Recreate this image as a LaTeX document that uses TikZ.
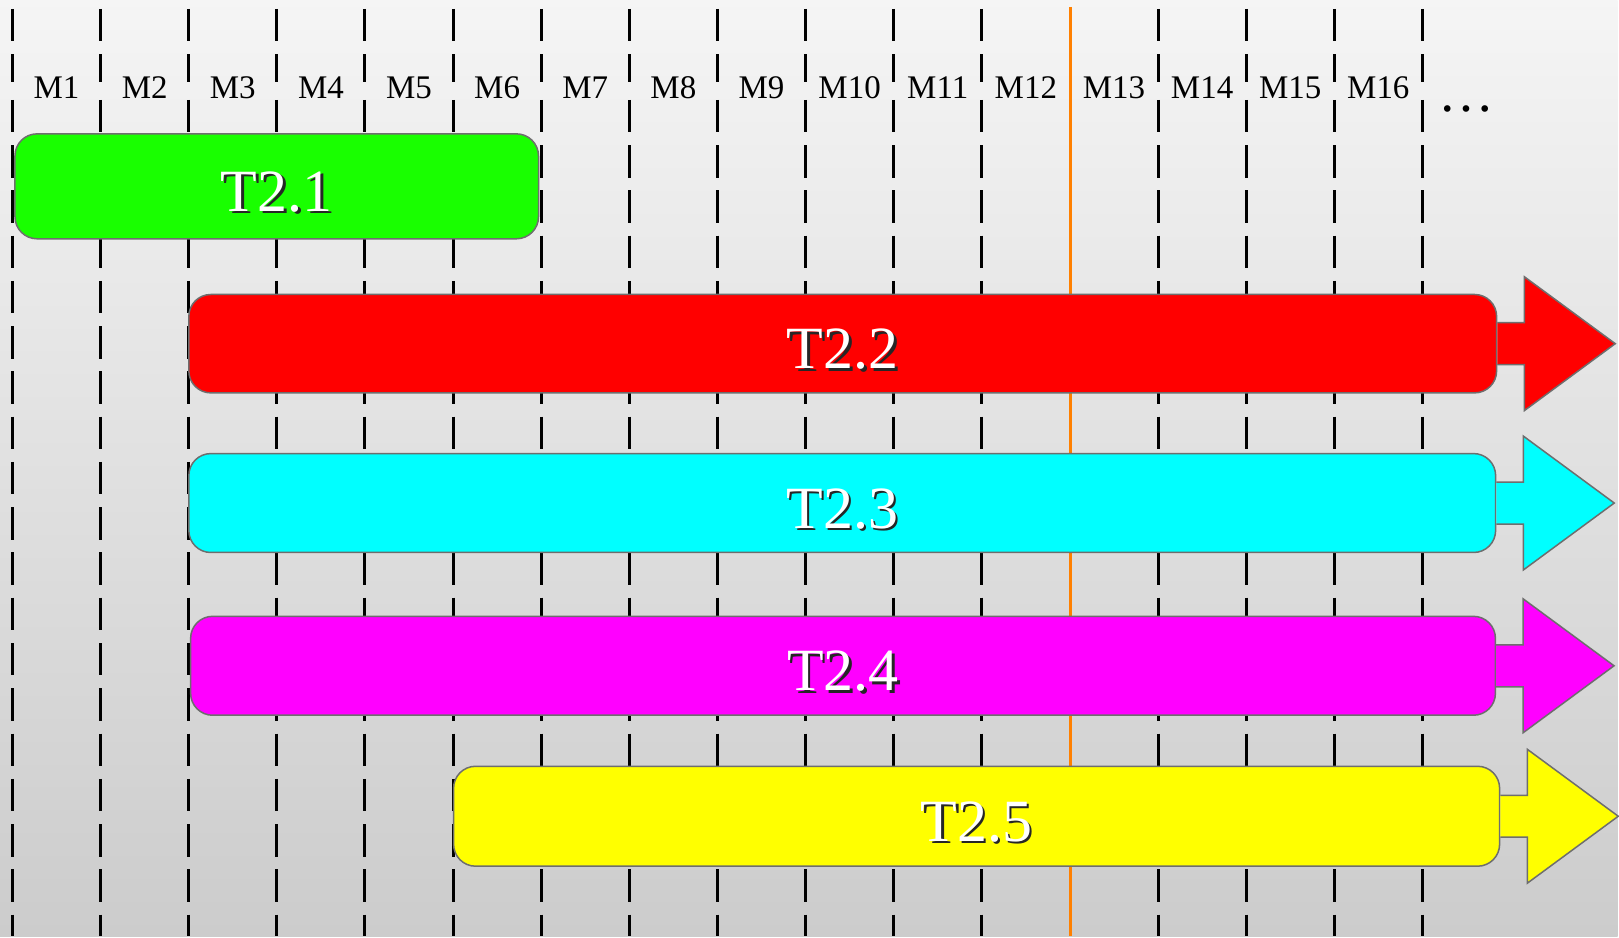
\documentclass[tikz,border=0pt]{standalone}
\usepackage{fontspec}
\setmainfont{Liberation Serif}
\usetikzlibrary{positioning,calc}

\definecolor{taskgreen}{RGB}{25,255,0}
\definecolor{taskred}{RGB}{255,0,0}
\definecolor{taskcyan}{RGB}{0,255,255}
\definecolor{taskmagenta}{RGB}{255,0,255}
\definecolor{taskyellow}{RGB}{255,255,0}
\definecolor{nowline}{RGB}{255,128,0}

% white label with a dark drop shadow
\newcommand{\shadowed}[1]{\makebox[0pt][l]{\hspace{2.5pt}\raisebox{-2.5pt}{\color{black!85}#1}}\textcolor{white}{#1}}
% arrow that continues a bar past the right edge
\newcommand{\goeson}[2]{\draw[taskedge, fill=#2] (#1.east) ++(0,-21) -- ++(27,0) -- ++(0,-46) -- ++(91,67) -- ++(-91,67) -- ++(0,-46) -- ++(-27,0);}

\begin{document}
\begin{tikzpicture}[x=1pt, y=-1pt,
    month/.style={line width=3pt, dash pattern=on 32.5pt off 12.8pt},
    mlabel/.style={anchor=base, inner sep=0pt, font=\fontsize{33}{36}\selectfont},
    taskedge/.style={draw=black!57, line width=1.5pt},
    task/.style={taskedge, rounded corners=22pt, inner sep=0pt, text height=50pt, text depth=0pt, font=\fontsize{60}{64}\selectfont}]

    % background
    \begin{scope}[y=1pt]
        \shade[top color=black!4, bottom color=black!20] (0,-937) rectangle (1619,0);
        \useasboundingbox (0,-937) rectangle (1619,0);
    \end{scope}

    % month grid
    \foreach \i in {0,...,11,13,14,15,16} {
        \draw[month] (12.5+88.2*\i, 9) -- (12.5+88.2*\i, 82);
        \draw[month] (12.5+88.2*\i, 100) -- (12.5+88.2*\i, 937);
    }
    \draw[nowline, line width=3pt] (1071, 7) -- (1071, 937);

    \foreach \i in {1,...,16}
        \node[mlabel] (m\i) at (88.2*\i-31.6, 99) {M\i};
    \node[mlabel, font=\fontsize{56}{60}\selectfont] (more) at (1468, 112) {…};

    % tasks
    \node[task, fill=taskgreen, minimum width=524pt, minimum height=105pt] (t21) at (277, 186.5) {\shadowed{T2.1}};
    \node[task, fill=taskred, minimum width=1309pt, minimum height=98.5pt] (t22) at (843.5, 344) {\shadowed{T2.2}};
    \node[task, fill=taskcyan, minimum width=1308pt, minimum height=99pt] (t23) at (843, 503.5) {\shadowed{T2.3}};
    \node[task, fill=taskmagenta, minimum width=1306pt, minimum height=99pt] (t24) at (843.8, 666.4) {\shadowed{T2.4}};
    \node[task, fill=taskyellow, minimum width=1047pt, minimum height=100pt] (t25) at (977.5, 817) {\shadowed{T2.5}};

    \goeson{t22}{taskred}
    \goeson{t23}{taskcyan}
    \goeson{t24}{taskmagenta}
    \goeson{t25}{taskyellow}
\end{tikzpicture}
\end{document}
